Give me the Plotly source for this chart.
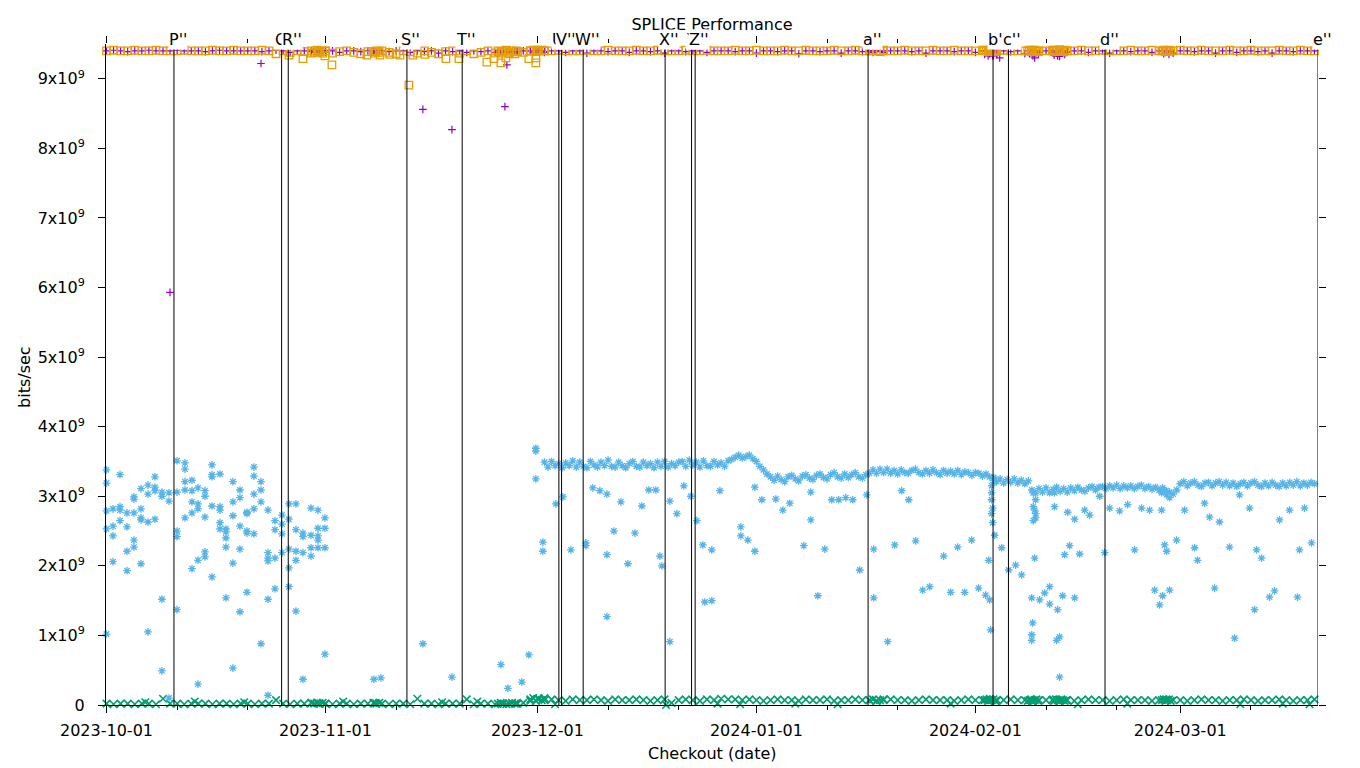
import pandas as pd
import plotly.graph_objects as go

# ---------------------------------------------------------------------------
# DATA  (x = days since 2023-10-01, y = Gbit/s)
# ---------------------------------------------------------------------------
START = "2023-10-01"

checkout_days = [
    0, 1, 2, 3, 4, 5, 6, 7, 8, 9,
    10, 11, 12, 13, 14, 15, 16, 17, 18, 19,
    20, 21, 22, 23, 24, 25, 26, 27, 28, 29,
    30, 31, 32, 33, 34, 35, 36, 37, 38, 39,
    40, 41, 42, 43, 44, 45, 46, 47, 48, 49,
    50, 51, 52, 53, 54, 55, 56, 57, 58, 59,
    60, 61, 62, 63, 64, 65, 66, 67, 68, 69,
    70, 71, 72, 73, 74, 75, 76, 77, 78, 79,
    80, 81, 82, 83, 84, 85, 86, 87, 88, 89,
    90, 91, 92, 93, 94, 95, 96, 97, 98, 99,
    100, 101, 102, 103, 104, 105, 106, 107, 108, 109,
    110, 111, 112, 113, 114, 115, 116, 117, 118, 119,
    120, 121, 122, 123, 124, 125, 126, 127, 128, 129,
    130, 131, 132, 133, 134, 135, 136, 137, 138, 139,
    140, 141, 142, 143, 144, 145, 146, 147, 148, 149,
    150, 151, 152, 153, 154, 155, 156, 157, 158, 159,
    160, 161, 162, 163, 164, 165, 166, 167, 168, 169,
    170, 171,
]

purple_daily = [
    9.40, 9.41, 9.40, 9.39, 9.40, 9.40, 9.41, 9.40, 9.40, 9.40,
    9.41, 9.40, 9.40, 9.40, 9.39, 9.40, 9.41, 9.40, 9.40, 9.40,
    9.40, 9.40, 9.39, 9.40, 9.41, 9.40, 9.38, 9.40, 9.40, 9.39,
    9.40, 9.41, 9.40, 9.38, 9.40, 9.40, 9.39, 9.40, 9.38, 9.40,
    9.39, 9.40, 9.40, 9.38, 9.40, 9.39, 9.40, 9.37, 9.40, 9.39,
    9.40, 9.38, 9.40, 9.39, 9.40, 9.38, 9.40, 9.40, 9.39, 9.40,
    9.40, 9.40, 9.39, 9.40, 9.40, 9.38, 9.40, 9.40, 9.37, 9.40,
    9.40, 9.39, 9.40, 9.40, 9.38, 9.40, 9.40, 9.39, 9.40, 9.37,
    9.40, 9.40, 9.39, 9.40, 9.40, 9.38, 9.40, 9.40, 9.40, 9.39,
    9.40, 9.40, 9.37, 9.40, 9.40, 9.39, 9.40, 9.40, 9.36, 9.40,
    9.40, 9.39, 9.40, 9.40, 9.37, 9.40, 9.40, 9.39, 9.40, 9.40,
    9.38, 9.40, 9.40, 9.40, 9.39, 9.40, 9.37, 9.40, 9.40, 9.40,
    9.39, 9.40, 9.40, 9.38, 9.40, 9.36, 9.35, 9.40, 9.39, 9.40,
    9.36, 9.40, 9.38, 9.40, 9.37, 9.40, 9.39, 9.40, 9.40, 9.38,
    9.40, 9.40, 9.37, 9.40, 9.40, 9.39, 9.40, 9.40, 9.38, 9.40,
    9.40, 9.37, 9.40, 9.40, 9.39, 9.40, 9.40, 9.37, 9.40, 9.40,
    9.38, 9.40, 9.40, 9.39, 9.40, 9.37, 9.40, 9.40, 9.39, 9.40,
    9.40, 9.40,
]

orange_daily = [
    9.40, 9.41, 9.40, 9.40, 9.41, 9.40, 9.40, 9.41, 9.40, 9.40,
    9.40, 9.41, 9.40, 9.40, 9.40, 9.41, 9.40, 9.40, 9.41, 9.40,
    9.40, 9.40, 9.41, 9.40, 9.36, 9.40, 9.38, 9.40, 9.39, 9.37,
    9.38, 9.40, 9.37, 9.39, 9.40, 9.38, 9.36, 9.39, 9.37, 9.40,
    9.38, 9.36, 9.40, 9.39, 9.37, 9.40, 9.38, 9.36, 9.39, 9.40,
    9.37, 9.40, 9.36, 9.38, 9.40, 9.37, 9.39, 9.36, 9.40, 9.38,
    9.40, 9.41, 9.40, 9.40, 9.41, 9.40, 9.40, 9.40, 9.41, 9.40,
    9.40, 9.41, 9.40, 9.40, 9.40, 9.41, 9.40, 9.40, 9.41, 9.40,
    9.40, 9.40, 9.41, 9.40, 9.40, 9.41, 9.40, 9.40, 9.40, 9.41,
    9.40, 9.40, 9.41, 9.40, 9.40, 9.40, 9.41, 9.40, 9.40, 9.41,
    9.40, 9.40, 9.40, 9.41, 9.40, 9.40, 9.41, 9.40, 9.40, 9.40,
    9.41, 9.40, 9.40, 9.41, 9.40, 9.40, 9.40, 9.41, 9.40, 9.40,
    9.41, 9.40, 9.40, 9.40, 9.41, 9.40, 9.40, 9.41, 9.40, 9.40,
    9.40, 9.41, 9.40, 9.40, 9.41, 9.40, 9.40, 9.40, 9.41, 9.40,
    9.40, 9.41, 9.40, 9.40, 9.40, 9.41, 9.40, 9.40, 9.41, 9.40,
    9.40, 9.40, 9.41, 9.40, 9.40, 9.41, 9.40, 9.40, 9.40, 9.41,
    9.40, 9.40, 9.41, 9.40, 9.40, 9.40, 9.41, 9.40, 9.40, 9.41,
    9.40, 9.40,
]

green_daily = [
    0.02, 0.01, 0.02, 0.02, 0.01, 0.02, 0.02, 0.01, 0.09, 0.02,
    0.02, 0.01, 0.02, 0.02, 0.02, 0.01, 0.02, 0.02, 0.01, 0.02,
    0.02, 0.01, 0.02, 0.02, 0.07, 0.02, 0.01, 0.02, 0.02, 0.03,
    0.02, 0.02, 0.01, 0.02, 0.02, 0.01, 0.02, 0.02, 0.03, 0.02,
    0.01, 0.02, 0.02, 0.01, 0.09, 0.02, 0.02, 0.01, 0.02, 0.02,
    0.02, 0.08, 0.01, 0.02, 0.02, 0.01, 0.02, 0.02, 0.02, 0.03,
    0.06, 0.09, 0.07, 0.08, 0.07, 0.06, 0.08, 0.07, 0.07, 0.08,
    0.07, 0.06, 0.08, 0.07, 0.07, 0.08, 0.07, 0.06, 0.07, 0.08,
    0.03, 0.07, 0.08, 0.07, 0.06, 0.08, 0.07, 0.09, 0.08, 0.08,
    0.07, 0.08, 0.07, 0.06, 0.07, 0.08, 0.07, 0.07, 0.06, 0.08,
    0.07, 0.07, 0.08, 0.06, 0.07, 0.07, 0.08, 0.07, 0.07, 0.06,
    0.07, 0.08, 0.07, 0.07, 0.06, 0.07, 0.08, 0.07, 0.07, 0.07,
    0.06, 0.07, 0.08, 0.07, 0.07, 0.07, 0.06, 0.07, 0.08, 0.07,
    0.07, 0.06, 0.07, 0.07, 0.08, 0.07, 0.07, 0.06, 0.07, 0.08,
    0.07, 0.07, 0.06, 0.07, 0.08, 0.07, 0.07, 0.07, 0.06, 0.07,
    0.08, 0.07, 0.07, 0.06, 0.07, 0.08, 0.07, 0.07, 0.06, 0.07,
    0.07, 0.08, 0.07, 0.06, 0.07, 0.07, 0.08, 0.07, 0.06, 0.07,
    0.07, 0.08,
]

# bursts of many checkouts on the same day
cluster_days = [
    29.0, 29.4, 29.8, 30.2, 30.6, 31.0,
    37.8, 38.2, 38.6,
    55.4, 55.8, 56.2, 56.6, 57.0, 57.4, 57.8, 58.2,
    60.0, 60.4, 60.8, 61.2, 61.6, 62.0,
    108.0, 108.5, 109.0, 109.5, 110.0,
    124.3, 124.55, 124.8, 125.05, 125.3, 125.55, 125.8, 126.05,
    130.4, 130.65, 130.9, 131.15, 131.4, 131.65, 131.9,
    133.9, 134.15, 134.4, 134.65, 134.9, 135.15, 135.4, 135.65, 135.9,
    149.4, 149.65, 149.9, 150.15, 150.4, 150.65,
]
purple_cluster = [
    9.40, 9.38, 9.40, 9.39, 9.40, 9.38,
    9.40, 9.39, 9.40,
    9.40, 9.38, 9.40, 9.39, 9.40, 9.38, 9.40, 9.39,
    9.40, 9.38, 9.40, 9.39, 9.40, 9.38,
    9.40, 9.38, 9.40, 9.39, 9.40,
    9.35, 9.40, 9.33, 9.38, 9.40, 9.34, 9.40, 9.37,
    9.40, 9.36, 9.40, 9.33, 9.38, 9.40, 9.35,
    9.40, 9.34, 9.38, 9.40, 9.33, 9.37, 9.40, 9.35, 9.38,
    9.40, 9.36, 9.38, 9.40, 9.35, 9.39,
]
orange_cluster = [
    9.40, 9.38, 9.41, 9.39, 9.37, 9.40,
    9.39, 9.40, 9.38,
    9.40, 9.37, 9.39, 9.41, 9.38, 9.40, 9.36, 9.39,
    9.40, 9.41, 9.39, 9.40, 9.41, 9.40,
    9.40, 9.41, 9.40, 9.39, 9.40,
    9.40, 9.41, 9.39, 9.40, 9.42, 9.40, 9.39, 9.41,
    9.40, 9.41, 9.39, 9.40, 9.41, 9.40, 9.39,
    9.40, 9.41, 9.39, 9.40, 9.42, 9.40, 9.39, 9.41, 9.40,
    9.40, 9.41, 9.39, 9.40, 9.41, 9.40,
]
green_cluster = [
    0.03, 0.02, 0.03, 0.02, 0.03, 0.02,
    0.03, 0.02, 0.03,
    0.02, 0.03, 0.02, 0.01, 0.02, 0.03, 0.02, 0.02,
    0.08, 0.10, 0.06, 0.09, 0.07, 0.10,
    0.07, 0.08, 0.06, 0.07, 0.08,
    0.07, 0.08, 0.06, 0.09, 0.07, 0.08, 0.06, 0.07,
    0.06, 0.07, 0.08, 0.05, 0.07, 0.08, 0.06,
    0.07, 0.06, 0.08, 0.07, 0.05, 0.08, 0.07, 0.06, 0.07,
    0.07, 0.08, 0.06, 0.07, 0.08, 0.06,
]

# isolated low readings
purple_dip_days = [8.99, 21.87, 44.79, 48.90, 56.40, 56.68, 125.45, 126.44, 131.39, 134.64, 134.92]
purple_dip_vals = [5.93, 9.22, 8.56, 8.27, 8.60, 9.20, 9.33, 9.30, 9.30, 9.33, 9.32]

orange_dip_days = [25.83, 27.81, 30.92, 31.91, 36.86, 38.71, 40.12, 41.54, 42.81, 43.38,
                   45.08, 48.05, 49.89, 53.85, 54.84, 55.83, 56.54, 59.79, 60.78, 60.78]
orange_dip_vals = [9.34, 9.29, 9.33, 9.20, 9.34, 9.34, 9.35, 9.34, 8.91, 9.34,
                   9.35, 9.29, 9.29, 9.24, 9.29, 9.23, 9.30, 9.29, 9.23, 9.30]

green_low_days = [63.5, 79.2, 86.5, 89.7, 97.5, 103.5, 119.5, 137.5, 144.5, 160.5, 166.5, 170.3,
                  5.5, 12.5, 19.5, 33.5, 47.5, 52.5]
green_low_vals = [0.01, 0.00, 0.02, 0.01, 0.02, 0.01, 0.02, 0.01, 0.02, 0.01, 0.02, 0.01,
                  0.04, 0.05, 0.04, 0.05, 0.04, 0.05]

# light-blue series, October: several checkouts per day
blue_oct_cols = [0.0, 0.92, 1.91, 2.90, 3.89, 4.88, 5.87, 6.86, 7.85, 8.85,
                 9.98, 11.11, 12.10, 12.95, 13.94, 14.93, 16.06, 16.91, 17.90, 18.89,
                 19.88, 20.87, 21.87, 22.86, 23.85, 24.84, 25.83, 26.82, 27.81, 28.95,
                 29.94, 30.92]
blue_oct_vals = [
    [3.38, 3.19, 2.79, 2.53, 1.02], [2.82, 2.57, 2.43, 2.06], [3.31, 2.85, 2.80, 2.65],
    [2.76, 2.56, 2.21, 1.93], [2.99, 2.96, 2.76, 2.37, 2.27], [3.11, 2.82, 2.69, 2.66, 2.03],
    [3.16, 3.03, 2.63, 1.05], [3.28, 3.13, 3.08, 2.67], [3.06, 3.00, 1.52, 0.49],
    [3.05, 2.93, 0.10], [3.51, 3.06, 2.50, 2.42, 1.37], [3.48, 3.39, 3.21, 3.09, 2.69],
    [3.23, 3.08, 2.92, 2.76, 1.96], [3.12, 2.89, 2.82, 2.08, 0.30], [3.08, 3.00, 2.70, 2.20, 2.13],
    [3.45, 3.31, 3.28, 2.86, 1.84], [3.32, 2.85, 2.80, 2.62, 2.53], [2.53, 2.49, 2.40, 2.27, 1.54],
    [3.21, 2.92, 2.72, 2.04, 0.53], [3.09, 2.98, 2.57, 2.24, 1.34], [2.77, 2.75, 2.50, 2.47, 1.62],
    [3.42, 3.29, 3.03, 2.82, 2.46], [3.21, 3.09, 2.92, 0.88], [2.80, 2.19, 2.11, 2.07, 1.52, 0.14],
    [2.65, 2.52, 2.11, 1.67], [2.73, 2.60, 2.46, 2.19], [2.89, 2.67, 2.24, 1.97, 1.70],
    [2.89, 2.52, 2.21, 2.08, 1.35], [2.47, 2.42, 2.19, 0.37], [2.83, 2.44, 2.26, 2.14],
    [2.80, 2.54, 2.43, 2.37, 2.26], [2.69, 2.54, 2.26, 0.73],
]

# light-blue series, November (mostly failing) and first December runs
blue_nov_days = [37.86, 38.85, 44.79, 48.90, 55.83, 56.82, 58.80, 59.79, 60.78, 60.78, 60.78, 61.77, 61.77]
blue_nov_vals = [0.37, 0.39, 0.88, 0.40, 0.58, 0.24, 0.33, 0.72, 3.69, 3.65, 3.25, 2.34, 2.21]

# light-blue series, the steady band from December on (two runs a day)
blue_band_days = [
    62.0, 62.5, 63.0, 63.5, 64.0, 64.5, 65.0, 65.5, 66.0, 66.5,
    67.0, 67.5, 68.0, 68.5, 69.0, 69.5, 70.0, 70.5, 71.0, 71.5,
    72.0, 72.5, 73.0, 73.5, 74.0, 74.5, 75.0, 75.5, 76.0, 76.5,
    77.0, 77.5, 78.0, 78.5, 79.0, 79.5, 80.0, 80.5, 81.0, 81.5,
    82.0, 82.5, 83.0, 83.5, 84.0, 84.5, 85.0, 85.5, 86.0, 86.5,
    87.0, 87.5, 88.0, 88.5, 89.0, 89.5, 90.0, 90.5, 91.0, 91.5,
    92.0, 92.5, 93.0, 93.5, 94.0, 94.5, 95.0, 95.5, 96.0, 96.5,
    97.0, 97.5, 98.0, 98.5, 99.0, 99.5, 100.0, 100.5, 101.0, 101.5,
    102.0, 102.5, 103.0, 103.5, 104.0, 104.5, 105.0, 105.5, 106.0, 106.5,
    107.0, 107.5, 108.0, 108.5, 109.0, 109.5, 110.0, 110.5, 111.0, 111.5,
    112.0, 112.5, 113.0, 113.5, 114.0, 114.5, 115.0, 115.5, 116.0, 116.5,
    117.0, 117.5, 118.0, 118.5, 119.0, 119.5, 120.0, 120.5, 121.0, 121.5,
    122.0, 122.5, 123.0, 123.5, 124.0, 124.5, 125.0, 125.5, 126.0, 126.5,
    127.0, 127.5, 128.0, 128.5, 129.0, 129.5, 130.0, 130.5, 131.0, 131.5,
    132.0, 132.5, 133.0, 133.5, 134.0, 134.5, 135.0, 135.5, 136.0, 136.5,
    137.0, 137.5, 138.0, 138.5, 139.0, 139.5, 140.0, 140.5, 141.0, 141.5,
    142.0, 142.5, 143.0, 143.5, 144.0, 144.5, 145.0, 145.5, 146.0, 146.5,
    147.0, 147.5, 148.0, 148.5, 149.0, 149.5, 150.0, 150.5, 151.0, 151.5,
    152.0, 152.5, 153.0, 153.5, 154.0, 154.5, 155.0, 155.5, 156.0, 156.5,
    157.0, 157.5, 158.0, 158.5, 159.0, 159.5, 160.0, 160.5, 161.0, 161.5,
    162.0, 162.5, 163.0, 163.5, 164.0, 164.5, 165.0, 165.5, 166.0, 166.5,
    167.0, 167.5, 168.0, 168.5, 169.0, 169.5, 170.0, 170.5, 171.0,
]
blue_band_vals = [
    # 62.0 - 81.0
    3.49, 3.42, 3.50, 3.44, 3.47, 3.41, 3.48, 3.44, 3.51, 3.42,
    3.49, 3.43, 3.41, 3.50, 3.45, 3.42, 3.49, 3.44, 3.52, 3.43,
    3.42, 3.49, 3.44, 3.41, 3.47, 3.50, 3.43, 3.42, 3.49, 3.44,
    3.47, 3.41, 3.49, 3.43, 3.50, 3.42, 3.47, 3.44, 3.49,
    # 81.5 - 88.5
    3.50, 3.43, 3.52, 3.45, 3.49, 3.42, 3.51, 3.44, 3.43, 3.50, 3.45, 3.48, 3.43, 3.51, 3.53,
    # 89.0 - 92.0
    3.56, 3.59, 3.55, 3.57, 3.59, 3.54, 3.50,
    # 92.5 - 93.5
    3.43, 3.38, 3.32,
    # 94.0 - 108.0
    3.28, 3.23, 3.29, 3.24, 3.21, 3.28, 3.30, 3.25, 3.22, 3.29,
    3.31, 3.26, 3.24, 3.30, 3.32, 3.27, 3.25, 3.31, 3.34, 3.28,
    3.26, 3.32, 3.27, 3.31, 3.34, 3.28, 3.26, 3.31, 3.33,
    # 108.5 - 125.0
    3.38, 3.33, 3.39, 3.34, 3.39, 3.33, 3.37, 3.32, 3.38, 3.34,
    3.33, 3.37, 3.39, 3.34, 3.32, 3.37, 3.33, 3.38, 3.34, 3.31,
    3.37, 3.33, 3.36, 3.32, 3.37, 3.31, 3.35, 3.34, 3.30, 3.34,
    3.33, 3.29, 3.32, 3.28,
    # 125.5 - 130.5
    3.26, 3.21, 3.25, 3.19, 3.24, 3.20, 3.25, 3.19, 3.23, 3.18, 3.22,
    # 131.0 - 140.5
    3.09, 3.04, 3.11, 3.06, 3.12, 3.05, 3.10, 3.13, 3.07, 3.11,
    3.06, 3.12, 3.08, 3.13, 3.09, 3.07, 3.12, 3.14, 3.09, 3.13,
    # 141.0 - 150.0
    3.14, 3.11, 3.15, 3.12, 3.16, 3.11, 3.15, 3.12, 3.15, 3.11,
    3.14, 3.16, 3.11, 3.14, 3.10, 3.13, 3.09, 3.12, 3.08,
    # 150.5 - 151.5
    3.06, 3.03, 3.09,
    # 152.0 - 171.0
    3.18, 3.21, 3.15, 3.19, 3.21, 3.16, 3.14, 3.19, 3.20, 3.15,
    3.19, 3.21, 3.16, 3.20, 3.15, 3.19, 3.14, 3.18, 3.20, 3.15,
    3.19, 3.21, 3.16, 3.14, 3.19, 3.15, 3.20, 3.16, 3.14, 3.19,
    3.15, 3.20, 3.16, 3.21, 3.15, 3.19, 3.16, 3.20, 3.18,
]

# light-blue series, scattered slower runs from December on
blue_scatter_cols = [
    63.62, 64.61, 65.74, 67.86, 68.85, 69.84, 70.84, 71.83, 72.82, 73.81,
    74.80, 75.79, 76.78, 77.77, 78.34, 78.62, 79.75, 80.74, 81.73, 82.72,
    83.57, 84.42, 84.70, 85.69, 86.83, 89.80, 90.79, 91.78, 92.77, 94.75,
    95.74, 96.73, 98.71, 99.70, 100.69, 101.68, 102.67, 103.66, 104.65, 105.64,
    106.63, 107.62, 108.61, 110.59, 111.58, 112.57, 113.56, 114.55, 115.54, 116.53,
    118.51, 119.50, 120.49, 121.48, 122.47, 123.46, 124.45, 124.88, 125.02, 125.16,
    125.30, 125.45, 125.60, 125.73, 126.72, 127.71, 128.70, 129.55, 130.97, 131.11,
    131.20, 131.39, 131.53, 132.10, 132.80, 133.51, 134.20, 134.50, 134.64, 134.92,
    135.35, 135.63, 136.06, 136.34, 137.05, 137.76, 138.46, 139.17, 140.59, 141.30,
    142.00, 143.42, 144.55, 145.54, 146.53, 147.66, 148.37, 149.08, 149.36, 149.50,
    149.79, 150.07, 150.49, 151.48, 152.61, 154.03, 154.45, 155.44, 156.15, 156.86,
    157.56, 158.98, 159.69, 160.39, 161.81, 162.52, 162.80, 163.51, 164.64, 165.35,
    166.06, 167.47, 168.60, 168.89, 169.59, 170.58,
]
blue_scatter_vals = [
    [2.89], [2.99], [2.23], [2.33, 2.29], [3.12], [3.08], [3.03, 2.16, 1.27], [2.50], [2.92], [2.03],
    [2.47], [2.86], [3.09], [3.09], [2.14], [2.00], [0.91, 2.93], [2.75], [3.15], [3.00],
    [2.65], [2.30], [1.48], [1.50, 2.23], [3.08], [2.56, 2.43], [2.37], [2.21, 3.13], [2.95], [2.96],
    [2.80], [2.90], [2.29], [2.66, 3.06], [1.57], [2.24], [2.95], [2.95], [2.98], [2.95],
    [1.94], [3.02], [1.54, 2.24], [0.91], [2.30], [3.08], [2.95], [2.36], [1.65], [1.70],
    [2.14], [1.62], [2.27], [1.62], [2.37], [1.68], [1.58], [2.08], [1.51], [1.08],
    [2.95, 3.05, 3.15, 2.75], [2.62, 2.83], [3.27, 3.20], [2.44], [2.26], [1.94], [2.01], [1.87], [1.54, 1.01, 0.93], [1.18],
    [2.65, 2.85, 3.05], [2.11, 2.80], [2.69, 2.95, 2.75], [1.51], [1.61], [1.70, 1.45], [3.05, 2.85], [0.93], [1.37], [0.40, 0.98],
    [1.57], [2.16], [2.77], [2.29], [1.54, 2.67], [2.17], [2.80], [2.73], [3.00], [2.19],
    [2.83], [2.79], [2.88], [2.23], [2.83], [2.80], [1.65], [1.44], [2.80, 3.05], [1.57],
    [2.30, 3.08], [2.21, 3.02], [1.65, 2.98], [2.37], [2.80], [2.26], [2.08], [2.90], [2.70], [1.68],
    [2.63], [2.27], [0.96], [3.02], [2.83], [1.37], [2.23], [2.11], [1.55], [1.64],
    [2.66], [2.80], [1.55], [2.23], [2.83], [2.33],
]

# vertical event markers
event_labels = ["P''", "Q''", "R''", "S''", "T''", "U''", "V''", "W''",
                "X''", "Y''", "Z''", "a''", "b''", "c''", "d''", "e''"]
event_days = [9.55, 24.79, 25.73, 42.53, 50.35, 64.04, 64.42, 67.48,
              79.08, 82.82, 83.33, 107.81, 125.50, 127.68, 141.35, 171.50]

month_ticks = ["2023-10-01", "2023-11-01", "2023-12-01", "2024-01-01", "2024-02-01", "2024-03-01"]
minor_ticks = ["2023-10-11", "2023-10-21", "2023-11-11", "2023-11-21", "2023-12-11", "2023-12-21",
               "2024-01-11", "2024-01-21", "2024-02-11", "2024-02-21", "2024-03-11"]
y_tick_vals = [0, 1e9, 2e9, 3e9, 4e9, 5e9, 6e9, 7e9, 8e9, 9e9]
y_tick_text = ["0", "1x10<sup>9</sup>", "2x10<sup>9</sup>", "3x10<sup>9</sup>", "4x10<sup>9</sup>",
               "5x10<sup>9</sup>", "6x10<sup>9</sup>", "7x10<sup>9</sup>", "8x10<sup>9</sup>",
               "9x10<sup>9</sup>"]

X_RANGE_DAYS = [-0.07, 171.5]
Y_RANGE = [0, 9.5e9]

# ---------------------------------------------------------------------------
# helpers
# ---------------------------------------------------------------------------
origin = pd.Timestamp(START)


def to_dates(days):
    return [origin + pd.Timedelta(days=float(d)) for d in days]


def bits(gbps):
    return [v * 1e9 for v in gbps]


def expand(cols, groups):
    xs, ys = [], []
    for c, g in zip(cols, groups):
        for v in g:
            xs.append(c)
            ys.append(v)
    return xs, ys


FONT = "DejaVu Sans"
PURPLE, GREEN, BLUE, ORANGE = "#9400D3", "#009E73", "#56B4E9", "#E69F00"

fig = go.Figure()


def add_series(days, gbps, name, symbol, size, color, width):
    fig.add_trace(go.Scatter(
        x=to_dates(days), y=bits(gbps), mode="markers", name=name,
        marker=dict(symbol=symbol, size=size, color=color,
                    line=dict(color=color, width=width)),
        cliponaxis=False, showlegend=False, hoverinfo="skip"))


add_series(checkout_days + cluster_days + purple_dip_days,
           purple_daily + purple_cluster + purple_dip_vals,
           "series 1", "cross-thin-open", 5.5, PURPLE, 1.2)
add_series(checkout_days + cluster_days + green_low_days,
           green_daily + green_cluster + green_low_vals,
           "series 2", "x-thin-open", 7.5, GREEN, 1.6)
bx1, by1 = expand(blue_oct_cols, blue_oct_vals)
bx2, by2 = expand(blue_scatter_cols, blue_scatter_vals)
add_series(bx1 + blue_nov_days + blue_band_days + bx2,
           by1 + blue_nov_vals + blue_band_vals + by2,
           "series 3", "asterisk-open", 6.4, BLUE, 1.3)
add_series(checkout_days + cluster_days + orange_dip_days,
           orange_daily + orange_cluster + orange_dip_vals,
           "series 4", "square-open", 7.5, ORANGE, 1.3)

# invisible trace to activate the mirrored (top/right) tick axes
fig.add_trace(go.Scatter(x=to_dates([0]), y=[0], xaxis="x2", yaxis="y2", mode="markers",
                         marker=dict(opacity=0), showlegend=False, hoverinfo="skip"))

x_range = to_dates(X_RANGE_DAYS)
tickfont = dict(family=FONT, size=16, color="black")
minor_cfg = dict(tickmode="array", tickvals=minor_ticks, ticks="outside",
                 ticklen=4, tickwidth=1, tickcolor="black", showgrid=False)

shapes = []
annotations = []
for lab, d in zip(event_labels, event_days):
    xd = to_dates([d])[0]
    shapes.append(dict(type="line", xref="x", yref="paper", x0=xd, x1=xd, y0=0, y1=1,
                       line=dict(color="black", width=1)))
    annotations.append(dict(text=lab, x=xd, xref="x", y=1.0068, yref="paper",
                            xanchor="center", yanchor="middle", xshift=4, showarrow=False,
                            bgcolor="white", borderpad=0,
                            font=dict(family=FONT, size=16, color="black")))

annotations.append(dict(text="Checkout (date)", x=0.5, xref="paper", y=-0.0741, yref="paper",
                        xanchor="center", yanchor="middle", showarrow=False,
                        font=dict(family=FONT, size=16, color="black")))
annotations.append(dict(text="bits/sec", x=-0.0677, xref="paper", y=0.4962, yref="paper",
                        xanchor="center", yanchor="middle", textangle=-90, showarrow=False,
                        font=dict(family=FONT, size=16, color="black")))

fig.update_layout(
    width=1360, height=768, autosize=False,
    margin=dict(l=106, r=42, t=44, b=63, pad=0),
    paper_bgcolor="white", plot_bgcolor="white",
    font=dict(family=FONT, size=16, color="black"),
    title=dict(text="SPLICE Performance", x=0.5, xref="paper", xanchor="center",
               y=1 - 24 / 768, yanchor="middle",
               font=dict(family=FONT, size=16, color="black")),
    xaxis=dict(type="date", range=x_range, tickmode="array", tickvals=month_ticks,
               ticktext=month_ticks, ticks="outside", ticklen=7, tickwidth=1,
               tickcolor="black", showline=True, linecolor="black", linewidth=1,
               showgrid=False, zeroline=False, tickfont=tickfont, minor=minor_cfg,
               ticklabelstandoff=4),
    xaxis2=dict(type="date", range=x_range, overlaying="x", side="top", anchor="y",
                tickmode="array", tickvals=month_ticks, ticks="outside", ticklen=7,
                tickwidth=1, tickcolor="black", showline=False, showgrid=False,
                zeroline=False, showticklabels=False, minor=minor_cfg),
    yaxis=dict(range=Y_RANGE, tickmode="array", tickvals=y_tick_vals, ticktext=y_tick_text,
               ticks="outside", ticklen=7, tickwidth=1, tickcolor="black",
               showline=True, linecolor="black", linewidth=1, showgrid=False,
               zeroline=False, tickfont=tickfont, ticklabelstandoff=10),
    yaxis2=dict(range=Y_RANGE, overlaying="y", side="right", anchor="x",
                tickmode="array", tickvals=y_tick_vals, ticks="outside", ticklen=7,
                tickwidth=1, tickcolor="black", showline=False, showgrid=False,
                zeroline=False, showticklabels=False),
    shapes=shapes,
    annotations=annotations,
)

fig.write_html("out.html", config={"displayModeBar": False},
               post_script="document.body.style.margin='0';")
